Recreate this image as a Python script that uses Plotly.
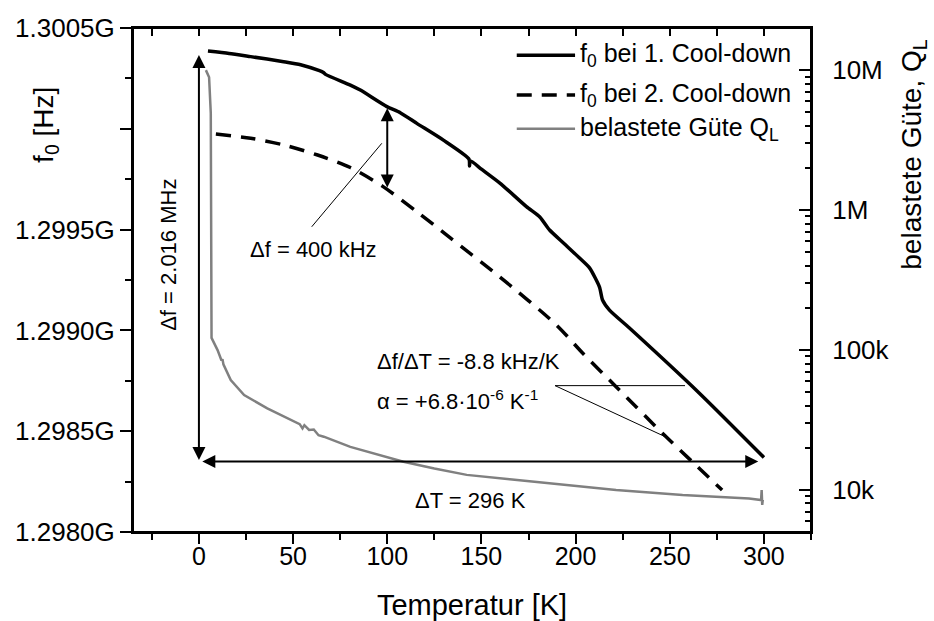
import numpy as np
import plotly.graph_objects as go

# Resonance frequency vs. temperature, 1st cool-down (T in K, f0 in MHz)
t_cd1 = [4.8, 16.0, 27.5, 45.0, 54.0, 64.0, 66.1, 67.2, 80.4, 85.7, 99.8, 106.9,
         115.7, 129.8, 143.4, 143.7, 144.0, 150.0, 159.8, 173.9, 181.0,
         186.2, 194.0, 202.1, 207.4, 212.7, 214.3, 218.0, 228.6, 265.6, 300.0]
f_cd1 = [1300.386, 1300.374, 1300.358, 1300.333, 1300.318, 1300.288, 1300.279,
         1300.270, 1300.217, 1300.192, 1300.110, 1300.080, 1300.027, 1299.944,
         1299.850, 1299.815, 1299.842, 1299.800, 1299.731, 1299.614, 1299.563,
         1299.498, 1299.430, 1299.359, 1299.310, 1299.215, 1299.151, 1299.101,
         1299.012, 1298.690, 1298.370]

# Resonance frequency vs. temperature, 2nd cool-down
t_cd2 = [9.0, 27.5, 45.0, 63.0, 80.4, 97.8, 115.7, 133.3, 159.8, 189.8,
         203.7, 221.5, 246.0, 261.9, 277.8]
f_cd2 = [1299.974, 1299.953, 1299.920, 1299.870, 1299.808, 1299.713, 1299.589,
         1299.460, 1299.265, 1299.027, 1298.888, 1298.721, 1298.491, 1298.349,
         1298.208]

# Loaded quality factor Q_L vs. temperature
t_q = [3.7, 5.4, 6.3, 6.6, 6.7, 9.9, 11.5, 12.0, 12.5, 13.0, 16.9, 24.0, 36.3,
       53.5, 55.0, 56.0, 58.5, 61.0, 63.5, 66.3, 80.4, 98.0, 108.6, 125.0, 142.2,
       165.0, 186.2, 221.5, 256.8, 292.1, 298.5, 298.8, 299.1, 299.4]
q_l = [10.0e6, 8.9e6, 4.93e6, 228e3, 122e3, 99.8e3, 88e3, 84e3, 86e3, 79e3,
       61e3, 47.6e3, 38.3e3, 29.5e3, 27.5e3, 29.0e3, 26.8e3, 27.0e3, 24.6e3,
       24.0e3, 20.3e3, 17.3e3, 15.9e3, 14.2e3, 12.8e3, 11.9e3, 11.1e3, 9.97e3,
       9.18e3, 8.69e3, 8.46e3, 9.97e3, 7.8e3, 8.5e3]

# Tick labels
f_ticks_mhz = [1298.0, 1298.5, 1299.0, 1299.5, 1300.0, 1300.5]
f_tick_text = ["1.2980G", "1.2985G", "1.2990G", "1.2995G", "", "1.3005G"]
q_ticks = [1e4, 1e5, 1e6, 1e7]
q_tick_text = ["10k", "100k", "1M", "10M"]

MHZ = 1e6
f1 = np.array(f_cd1) * MHZ
f2 = np.array(f_cd2) * MHZ

FONT = "Liberation Sans, Arial, sans-serif"
BLACK = "#000000"
GREY = "#808080"

fig = go.Figure()
fig.add_trace(go.Scatter(x=t_cd1, y=f1, mode="lines",
                         line=dict(color=BLACK, width=3.5, shape="spline",
                                   smoothing=0.6),
                         name="f0 bei 1. Cool-down", showlegend=False))
fig.add_trace(go.Scatter(x=t_cd2, y=f2, mode="lines",
                         line=dict(color=BLACK, width=3.5, dash="15px,10px",
                                   shape="spline", smoothing=0.8),
                         name="f0 bei 2. Cool-down", showlegend=False))
# Q_L lives on the top/right axis pair
fig.add_trace(go.Scatter(x=t_q, y=q_l, mode="lines", xaxis="x2", yaxis="y2",
                         line=dict(color=GREY, width=2.5),
                         name="belastete Güte Q_L", showlegend=False))

x_range = [-35, 325]
f_minor = [v * MHZ + 0.25 * MHZ for v in f_ticks_mhz[:-1]]
q_minor = [m * d for d in [1e3, 1e4, 1e5, 1e6, 1e7] for m in range(2, 10)
           if 5e3 <= m * d <= 2e7]

def axis_style(size):
    return dict(showline=True, linecolor=BLACK, linewidth=2, showgrid=False,
                zeroline=False, tickcolor=BLACK, tickwidth=2, automargin=False,
                tickfont=dict(family=FONT, size=size, color=BLACK))

fig.update_layout(
    width=934, height=621,
    margin=dict(l=133, r=123, t=28, b=89),
    paper_bgcolor="white", plot_bgcolor="white",
    font=dict(family=FONT, color=BLACK),
    xaxis=dict(range=x_range, tick0=0, dtick=50, ticks="outside", ticklen=10,
               ticklabelstandoff=-9,
               minor=dict(ticks="outside", ticklen=6, tickwidth=2, tickcolor=BLACK,
                          tick0=-25, dtick=50),
               title=dict(text="Temperatur [K]", font=dict(family=FONT, size=29),
                          standoff=26),
               **axis_style(25)),
    xaxis2=dict(range=x_range, overlaying="x", side="top", anchor="y2",
                tick0=0, dtick=50, ticks="inside", ticklen=8, showticklabels=False,
                minor=dict(ticks="inside", ticklen=8, tickwidth=2, tickcolor=BLACK,
                           tick0=-25, dtick=50),
                **axis_style(25)),
    yaxis=dict(range=[1298.0 * MHZ, 1300.5 * MHZ],
               tickmode="array", tickvals=[v * MHZ for v in f_ticks_mhz],
               ticktext=f_tick_text, ticks="outside", ticklen=11,
               minor=dict(ticks="outside", ticklen=6, tickwidth=2, tickcolor=BLACK,
                          tickmode="array", tickvals=f_minor),
               **axis_style(26)),
    yaxis2=dict(type="log", overlaying="y", side="right", anchor="x2",
                range=[np.log10(5e3), np.log10(2e7)],
                tickmode="array", tickvals=q_ticks, ticktext=q_tick_text,
                ticks="inside", ticklen=12, ticklabelstandoff=14,
                minor=dict(ticks="inside", ticklen=6, tickwidth=2, tickcolor=BLACK,
                           tickmode="array", tickvals=q_minor),
                **axis_style(26)),
)

# plot frame
fig.add_shape(type="rect", xref="paper", yref="paper", x0=0, x1=1, y0=0, y1=1,
              line=dict(color=BLACK, width=2), fillcolor="rgba(0,0,0,0)",
              layer="above")

ann_font = dict(family=FONT, size=22, color=BLACK)

# axis titles
fig.add_annotation(text="f<sub>0</sub> [Hz]", xref="paper", yref="paper",
                   x=-0.13, y=0.8075, xanchor="center", yanchor="middle",
                   showarrow=False, textangle=-90,
                   font=dict(family=FONT, size=28, color=BLACK))
fig.add_annotation(text="belastete Güte, Q<sub>L</sub>", xref="paper", yref="paper",
                   x=1.150, y=0.748, xanchor="center", yanchor="middle",
                   showarrow=False, textangle=-90,
                   font=dict(family=FONT, size=28, color=BLACK))

# measurement arrows
df_total = 2.016  # MHz
f_base = 1298.35
dT_total = 296
df_cd = 0.400  # MHz, shift between cool-downs at 100 K
f_top_100 = 1300.102

arrow = dict(showarrow=True, text="", axref="x", ayref="y", arrowhead=2,
             startarrowhead=2, arrowside="end+start", arrowsize=1.3,
             startarrowsize=1.3, arrowwidth=2, arrowcolor=BLACK,
             standoff=0, startstandoff=0)
fig.add_annotation(x=0, y=(f_base + df_total) * MHZ, ax=0, ay=f_base * MHZ, **arrow)
fig.add_annotation(x=1 + dT_total, y=f_base * MHZ, ax=1, ay=f_base * MHZ, **arrow)
fig.add_annotation(x=100, y=f_top_100 * MHZ, ax=100, ay=(f_top_100 - df_cd) * MHZ,
                   **arrow)

# labels
fig.add_annotation(text="\u0394f = 2.016 MHz", x=-16.5, y=1299.374 * MHZ,
                   showarrow=False, textangle=-90, font=ann_font)
fig.add_annotation(text="\u0394f = 400 kHz", x=61.1, y=1299.399 * MHZ,
                   showarrow=False, font=ann_font)
fig.add_annotation(text="\u0394T = 296 K", x=144, y=1298.155 * MHZ,
                   showarrow=False, font=ann_font)
fig.add_annotation(text="\u0394f/\u0394T = -8.8 kHz/K", x=93.5, y=1298.845 * MHZ,
                   xanchor="left", showarrow=False, font=ann_font)
fig.add_annotation(text="\u03b1 = +6.8\u00b710<sup>-6</sup> K<sup>-1</sup>",
                   x=93.5, y=1298.655 * MHZ, xanchor="left", showarrow=False,
                   font=ann_font)

# thin leader lines
lead = dict(type="line", xref="x", yref="y", line=dict(color=BLACK, width=1))
fig.add_shape(x0=59.9, y0=1299.514 * MHZ, x1=97.1, y1=1299.928 * MHZ, **lead)
fig.add_shape(x0=189.1, y0=1298.726 * MHZ, x1=258.1, y1=1298.726 * MHZ, **lead)
fig.add_shape(x0=189.1, y0=1298.726 * MHZ, x1=247.5, y1=1298.473 * MHZ, **lead)

# legend block (top right)
legend_rows = [
    ("f<sub>0</sub> bei 1. Cool-down", dict(color=BLACK, width=3.5, dash="solid")),
    ("f<sub>0</sub> bei 2. Cool-down", dict(color=BLACK, width=3.5, dash="15px,10px")),
    ("belastete Güte Q<sub>L</sub>", dict(color=GREY, width=2.5, dash="solid")),
]
row_y = [0.946, 0.867, 0.800]
for (label, style), yy in zip(legend_rows, row_y):
    fig.add_shape(type="line", xref="paper", yref="paper",
                  x0=0.566, x1=0.652, y0=yy, y1=yy, line=style)
    fig.add_annotation(text=label, xref="paper", yref="paper", x=0.657, y=yy,
                       xanchor="left", yanchor="middle", showarrow=False,
                       font=dict(family=FONT, size=25, color=BLACK))

fig.write_html("out.html")
